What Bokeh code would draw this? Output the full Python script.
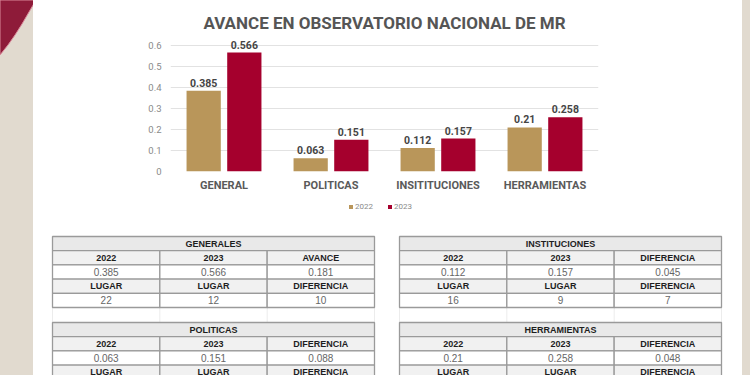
from bokeh.plotting import figure
from bokeh.models import (ColumnDataSource, FactorRange, Range1d, FixedTicker,
                          Legend, LegendItem, Div)
from bokeh.transform import dodge
from bokeh.layouts import row, column
from bokeh.embed import file_html
from bokeh.resources import INLINE
from bokeh.core.properties import value

# ---------------- data ----------------
categories = ["GENERAL", "POLITICAS", "INSITITUCIONES", "HERRAMIENTAS"]
values_2022 = [0.385, 0.063, 0.112, 0.21]
values_2023 = [0.566, 0.151, 0.157, 0.258]
labels_2022 = ["0.385", "0.063", "0.112", "0.21"]
labels_2023 = ["0.566", "0.151", "0.157", "0.258"]
series_names = ["2022", "2023"]
y_ticks = [0, 0.1, 0.2, 0.3, 0.4, 0.5, 0.6]
chart_title = "AVANCE EN OBSERVATORIO NACIONAL DE MR"

table_titles = ["GENERALES", "INSTITUCIONES", "POLITICAS", "HERRAMIENTAS"]
generales_rows = [["2022", "2023", "AVANCE"],
                  ["0.385", "0.566", "0.181"],
                  ["LUGAR", "LUGAR", "DIFERENCIA"],
                  ["22", "12", "10"]]
instituciones_rows = [["2022", "2023", "DIFERENCIA"],
                      ["0.112", "0.157", "0.045"],
                      ["LUGAR", "LUGAR", "DIFERENCIA"],
                      ["16", "9", "7"]]
politicas_rows = [["2022", "2023", "DIFERENCIA"],
                  ["0.063", "0.151", "0.088"],
                  ["LUGAR", "LUGAR", "DIFERENCIA"]]
herramientas_rows = [["2022", "2023", "DIFERENCIA"],
                     ["0.21", "0.258", "0.048"],
                     ["LUGAR", "LUGAR", "DIFERENCIA"]]

# ---------------- styles ----------------
GOLD = "#b9965a"
CRIMSON = "#a5002d"
BEIGE = "#e1dacf"
DARK_RED = "#8e1b39"
FONT = "Roboto"
TFONT = "Liberation Sans"

# ---------------- side strips (decoration) ----------------
corner_svg = ('<svg width="33" height="375" style="display:block">'
              '<polygon points="0,0 36,0 29,12 22,24 15,35 8,45 0,55" '
              'fill="%s" stroke="#d98a9a" stroke-width="1"/></svg>' % DARK_RED)
left = Div(text=corner_svg, width=33, height=375,
           styles={"background-color": BEIGE, "overflow": "hidden",
                   "padding": "0", "margin": "0"})
right = Div(text="", width=8, height=375,
            styles={"background-color": BEIGE, "padding": "0", "margin": "0"})
top_pad = Div(text="", width=709, height=5,
              styles={"background-color": "white", "padding": "0", "margin": "0"})

# ---------------- bar chart ----------------
src = ColumnDataSource(dict(cat=categories, v22=values_2022, v23=values_2023,
                            l22=labels_2022, l23=labels_2023))

p = figure(width=709, height=189, x_range=FactorRange(factors=categories, range_padding=0),
           y_range=Range1d(0, 0.638), output_backend="svg", toolbar_location=None,
           min_border_left=137, min_border_right=144, min_border_top=0,
           min_border_bottom=0, frame_align=False, title=chart_title)
p.outline_line_color = None
p.background_fill_color = "white"
p.border_fill_color = "white"
p.title.align = "center"
p.title.text_font = FONT
p.title.text_font_size = "17px"
p.title.text_font_style = "bold"
p.title.text_color = "#555555"
p.title.offset = -16

off = 0.19
r22 = p.vbar(x=dodge("cat", -off, range=p.x_range), top="v22", width=0.32,
             source=src, fill_color=GOLD, line_color=None)
r23 = p.vbar(x=dodge("cat", off, range=p.x_range), top="v23", width=0.32,
             source=src, fill_color=CRIMSON, line_color=None)
for xcol, ycol, tcol, o in [("cat", "v22", "l22", -off), ("cat", "v23", "l23", off)]:
    p.text(x=dodge(xcol, o, range=p.x_range), y=ycol, text=tcol, source=src,
           text_align="center", text_baseline="bottom", y_offset=-4,
           text_font=value(FONT), text_font_style="bold", text_font_size="10.5px",
           text_color="#454545")

p.yaxis.ticker = FixedTicker(ticks=y_ticks)
p.yaxis.major_label_overrides = {0: "0"}
p.yaxis.axis_line_color = None
p.yaxis.major_tick_line_color = None
p.yaxis.minor_tick_line_color = None
p.yaxis.major_label_text_font = FONT
p.yaxis.major_label_text_font_size = "9.5px"
p.yaxis.major_label_text_color = "#8a8a8a"
p.yaxis.major_label_standoff = 3

p.ygrid.ticker = FixedTicker(ticks=y_ticks)
p.ygrid.grid_line_color = "#e2e2e2"
p.xgrid.grid_line_color = None

p.xaxis.axis_line_color = None
p.xaxis.major_tick_line_color = None
p.xaxis.minor_tick_line_color = None
p.xaxis.major_label_text_font = FONT
p.xaxis.major_label_text_font_size = "11px"
p.xaxis.major_label_text_font_style = "bold"
p.xaxis.major_label_text_color = "#5a5a5a"
p.xaxis.major_label_standoff = 1

# ---------------- tables (+ legend) ----------------
t = figure(width=709, height=181, x_range=Range1d(33, 742), y_range=Range1d(375, 194),
           output_backend="svg", toolbar_location=None, min_border=0,
           x_axis_type=None, y_axis_type=None, frame_align=False)
t.grid.visible = False
t.outline_line_color = None
t.background_fill_color = "white"
t.border_fill_color = "white"

# legend swatches in the series colours (glyphs themselves lie outside the view)
lg22 = t.rect(x=[0], y=[0], width=1, height=1, fill_color=GOLD, line_color=None)
lg23 = t.rect(x=[0], y=[0], width=1, height=1, fill_color=CRIMSON, line_color=None)
legend = Legend(items=[LegendItem(label=series_names[0], renderers=[lg22]),
                       LegendItem(label=series_names[1], renderers=[lg23])],
                orientation="horizontal", location=(315, 164),
                glyph_width=5, glyph_height=5, label_standoff=2, spacing=12,
                label_text_font=FONT, label_text_font_size="8px",
                label_text_color="#8a8a8a", border_line_color=None,
                background_fill_alpha=0, padding=0, margin=0)
t.add_layout(legend)

table_origins = [(52, 236), (399, 236), (52, 322), (399, 322)]
table_rows = [generales_rows, instituciones_rows, politicas_rows, herramientas_rows]
TW = 322.0
RH = 14.2
CW = TW / 3

rx, ry, rw, rh, rf = [], [], [], [], []
tx, ty, tt, tstyle, tcolor, tsize = [], [], [], [], [], []
for (x0, y0), title, rows in zip(table_origins, table_titles, table_rows):
    rx.append(x0 + TW / 2); ry.append(y0 + RH / 2); rw.append(TW); rh.append(RH)
    rf.append("#e9e9e9")
    tx.append(x0 + TW / 2); ty.append(y0 + RH / 2); tt.append(title)
    tstyle.append("bold"); tcolor.append("#1e1e1e"); tsize.append("9px")
    for i, r in enumerate(rows):
        is_label = (i % 2 == 0)
        for j, cell in enumerate(r):
            cx = x0 + CW * (j + 0.5)
            cy = y0 + RH * (i + 1.5)
            rx.append(cx); ry.append(cy); rw.append(CW); rh.append(RH)
            rf.append("#f1f1f1" if is_label else "white")
            tx.append(cx); ty.append(cy); tt.append(cell)
            tstyle.append("bold" if is_label else "normal")
            tcolor.append("#1e1e1e" if is_label else "#666666")
            tsize.append("9px" if is_label else "10px")

# faint connectors between stacked tables
for x0, y0 in table_origins[:2]:
    yb = y0 + RH * 5
    for j in range(4):
        t.segment(x0=[x0 + CW * j], y0=[yb], x1=[x0 + CW * j], y1=[yb + 15],
                  line_color="#ececec", line_width=1)

t.rect(x=rx, y=ry, width=rw, height=rh, fill_color=rf, line_color="#9a9a9a",
       line_width=1.3)
tsrc = ColumnDataSource(dict(x=tx, y=ty, t=tt, s=tstyle, c=tcolor, z=tsize))
t.text(x="x", y="y", text="t", source=tsrc, text_align="center",
       text_baseline="middle", text_font=value(TFONT), text_font_style="s",
       text_color="c", text_font_size="z")

layout = row(left, column(top_pad, p, t), right)
open("out.html", "w").write(file_html(layout, INLINE))
